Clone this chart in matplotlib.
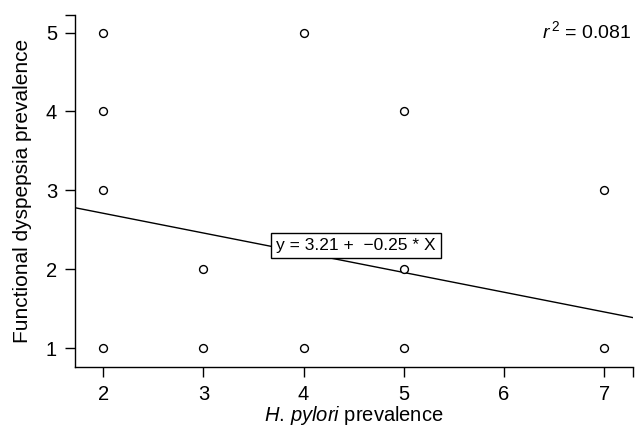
import matplotlib
matplotlib.use("Agg")
import matplotlib.pyplot as plt
import numpy as np

plt.rcParams['font.family'] = ['Liberation Sans', 'DejaVu Sans']
plt.rcParams['mathtext.fontset'] = 'custom'
plt.rcParams['mathtext.rm'] = 'Liberation Sans'
plt.rcParams['mathtext.it'] = 'Liberation Sans:italic'

# Data
hp = [2, 2, 2, 2, 3, 3, 4, 4, 5, 5, 5, 7, 7]
fd = [1, 3, 4, 5, 1, 2, 1, 5, 1, 2, 4, 1, 3]
intercept = 3.21
slope = -0.25
r2 = 0.081
xticks = [2, 3, 4, 5, 6, 7]
yticks = [1, 2, 3, 4, 5]

fig = plt.figure(figsize=(6.37, 4.33), dpi=100)
ax = fig.add_axes([0.118, 0.152, 0.876, 0.813])
xmin, xmax = 1.72, 7.29
ymin, ymax = 0.76, 5.22
ax.set_xlim(xmin, xmax)
ax.set_ylim(ymin, ymax)

ax.scatter(hp, fd, s=32, facecolors='white', edgecolors='black', linewidths=1.0, zorder=3)
xs = np.array([xmin, xmax])
ax.plot(xs, intercept + slope * xs, color='black', lw=1.0, zorder=2)

ax.text(4.52, 2.30, f"y = {intercept} +  \u2212{abs(slope)} * X", ha='center', va='center', fontsize=12.5,
        bbox=dict(boxstyle='square,pad=0.3', fc='white', ec='black', lw=1.0), zorder=4)

ax.text(0.997, 0.955, r"$\mathit{r}^{\,2}$" + f" = {r2}", transform=ax.transAxes, ha='right', va='center', fontsize=14)

for s in ['top', 'right']:
    ax.spines[s].set_visible(False)
ax.spines['left'].set_linewidth(1.0)
ax.spines['bottom'].set_linewidth(1.0)

ax.set_xticks(xticks + [xmax])
ax.set_xticklabels([str(t) for t in xticks] + [''])
ax.set_yticks(yticks + [ymax])
ax.set_yticklabels([str(t) for t in yticks] + [''])
ax.tick_params(axis='both', length=7, width=1.0, labelsize=14.5, color='black', pad=6)

ax.set_xlabel(r"$\mathit{H.}\,\mathit{pylori}$" + " prevalence", fontsize=14.5, labelpad=0)
ax.set_ylabel("Functional dyspepsia prevalence", fontsize=15, labelpad=10)

fig.savefig("out.png", dpi=100)
